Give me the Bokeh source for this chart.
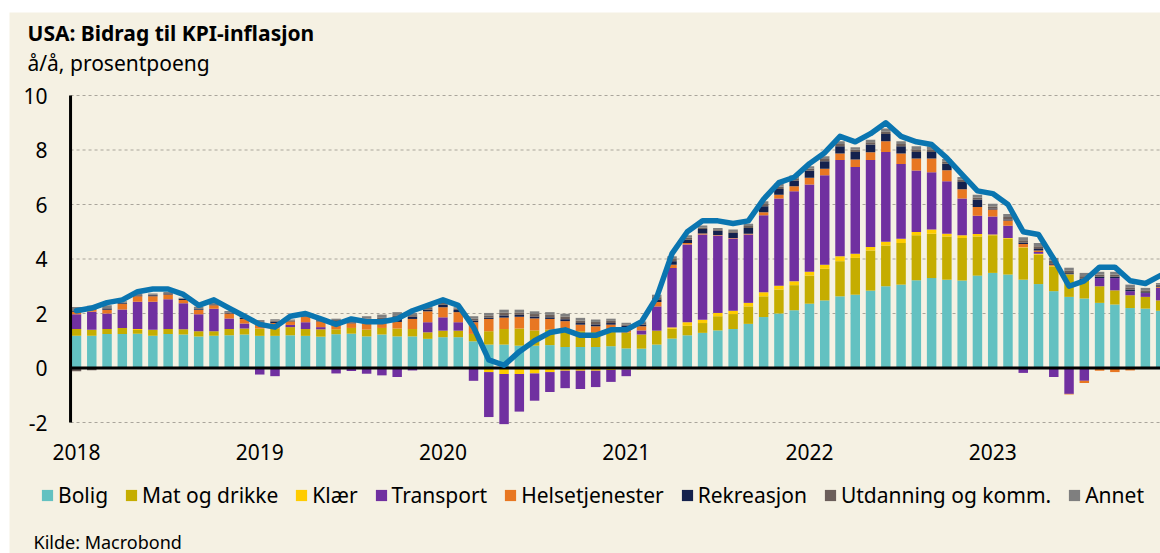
import numpy as np
from bokeh.plotting import figure
from bokeh.models import ColumnDataSource, Legend, LegendItem, Range1d, Label
from bokeh.core.properties import value
from bokeh.embed import file_html
from bokeh.resources import INLINE

# ---------------- data ----------------
years = ["2018", "2019", "2020", "2021", "2022", "2023"]
months = [f"{y}-{m:02d}" for y in years for m in range(1, 13)]

bolig = [
    1.18, 1.18, 1.25, 1.25, 1.26, 1.18, 1.25, 1.23, 1.16, 1.18, 1.20, 1.23,
    1.18, 1.18, 1.20, 1.18, 1.15, 1.24, 1.26, 1.16, 1.23, 1.16, 1.16, 1.07,
    1.13, 1.13, 0.98, 0.86, 0.86, 0.82, 0.82, 0.84, 0.77, 0.77, 0.77, 0.80,
    0.72, 0.71, 0.86, 1.08, 1.20, 1.29, 1.38, 1.43, 1.62, 1.87, 2.00, 2.12,
    2.36, 2.48, 2.63, 2.69, 2.84, 3.00, 3.06, 3.22, 3.30, 3.24, 3.21, 3.39,
    3.49, 3.43, 3.24, 3.08, 2.82, 2.61, 2.55, 2.39, 2.33, 2.20, 2.18, 2.10]
mat = [
    0.25, 0.22, 0.18, 0.22, 0.13, 0.22, 0.18, 0.19, 0.19, 0.17, 0.23, 0.22,
    0.27, 0.27, 0.30, 0.25, 0.27, 0.18, 0.21, 0.25, 0.24, 0.29, 0.27, 0.24,
    0.24, 0.24, 0.27, 0.49, 0.57, 0.63, 0.56, 0.57, 0.60, 0.58, 0.55, 0.52,
    0.58, 0.52, 0.51, 0.36, 0.35, 0.36, 0.52, 0.55, 0.64, 0.76, 0.88, 0.92,
    1.03, 1.16, 1.29, 1.35, 1.47, 1.50, 1.53, 1.65, 1.63, 1.59, 1.56, 1.44,
    1.38, 1.32, 1.17, 1.08, 0.91, 0.82, 0.66, 0.61, 0.52, 0.47, 0.43, 0.38]
klaer = [
    0.00, 0.00, 0.00, 0.00, 0.04, 0.00, 0.00, -0.03, 0.00, 0.00, 0.00, 0.00,
    0.00, 0.00, 0.00, -0.05, -0.05, -0.03, 0.00, 0.00, 0.00, 0.00, 0.00, 0.00,
    0.00, 0.00, 0.00, -0.15, -0.22, -0.22, -0.20, -0.15, -0.10, -0.10, -0.10, -0.07,
    -0.05, -0.05, -0.05, 0.05, 0.13, 0.12, 0.12, 0.12, 0.13, 0.15, 0.14, 0.14,
    0.14, 0.15, 0.18, 0.15, 0.13, 0.13, 0.15, 0.12, 0.15, 0.10, 0.10, 0.09,
    0.03, 0.02, 0.02, 0.03, 0.02, 0.01, 0.00, 0.00, 0.00, 0.00, 0.00, 0.00]
transport = [
    0.54, 0.66, 0.57, 0.68, 1.00, 1.03, 1.09, 0.96, 0.62, 0.82, 0.39, 0.18,
    -0.24, -0.30, 0.08, 0.25, 0.08, -0.17, -0.11, -0.21, -0.27, -0.33, -0.09, 0.37,
    0.49, 0.31, -0.47, -1.65, -1.84, -1.38, -1.00, -0.73, -0.64, -0.67, -0.60, -0.44,
    -0.25, 0.15, 0.89, 2.18, 2.85, 3.13, 2.84, 2.65, 2.51, 2.83, 3.20, 3.31,
    3.20, 3.28, 3.53, 3.19, 3.19, 3.30, 2.75, 2.26, 2.10, 1.92, 1.35, 0.67,
    0.66, 0.45, -0.18, 0.07, -0.33, -0.95, -0.47, 0.30, 0.45, 0.15, 0.14, 0.46]
helse = [
    0.09, 0.09, 0.14, 0.20, 0.20, 0.20, 0.18, 0.12, 0.16, 0.13, 0.18, 0.17,
    0.15, 0.20, 0.13, 0.19, 0.21, 0.27, 0.17, 0.24, 0.18, 0.24, 0.37, 0.40,
    0.37, 0.37, 0.43, 0.45, 0.42, 0.43, 0.44, 0.39, 0.35, 0.24, 0.21, 0.27,
    0.20, 0.15, 0.16, 0.12, 0.06, 0.04, 0.02, 0.02, 0.03, 0.11, 0.14, 0.18,
    0.25, 0.24, 0.24, 0.27, 0.29, 0.39, 0.38, 0.44, 0.51, 0.41, 0.34, 0.32,
    0.26, 0.19, 0.12, 0.05, 0.04, -0.02, -0.08, -0.10, -0.15, -0.09, -0.03, 0.03]
rekreasjon = [
    0.03, 0.03, 0.04, 0.03, 0.03, 0.04, 0.03, 0.03, 0.03, 0.03, 0.03, 0.04,
    0.04, 0.05, 0.02, 0.02, 0.02, 0.03, 0.03, 0.08, 0.10, 0.12, 0.08, 0.06,
    0.09, 0.08, 0.06, 0.05, 0.08, 0.07, 0.07, 0.06, 0.07, 0.06, 0.07, 0.06,
    0.05, 0.06, 0.10, 0.13, 0.12, 0.16, 0.16, 0.19, 0.21, 0.22, 0.21, 0.21,
    0.27, 0.28, 0.27, 0.28, 0.28, 0.27, 0.27, 0.24, 0.24, 0.24, 0.27, 0.27,
    0.03, 0.04, 0.05, 0.06, 0.05, 0.04, 0.06, 0.05, 0.05, 0.06, 0.03, 0.03]
utdanning = [
    -0.12, -0.08, 0.02, 0.02, 0.02, 0.02, 0.02, 0.02, 0.03, 0.02, 0.02, 0.02,
    0.04, 0.04, 0.02, 0.02, 0.03, 0.04, 0.05, 0.08, 0.09, 0.10, 0.06, 0.06,
    0.07, 0.05, 0.07, 0.08, 0.10, 0.09, 0.09, 0.09, 0.10, 0.09, 0.09, 0.08,
    0.05, 0.06, 0.08, 0.08, 0.08, 0.06, 0.05, 0.06, 0.07, 0.08, 0.09, 0.08,
    0.07, 0.08, 0.08, 0.08, 0.08, 0.09, 0.08, 0.10, 0.10, 0.08, 0.08, 0.08,
    0.08, 0.09, 0.09, 0.10, 0.10, 0.10, 0.10, 0.08, 0.08, 0.08, 0.07, 0.06]
annet = [
    0.15, 0.10, 0.10, 0.05, 0.05, 0.04, 0.04, 0.03, 0.06, 0.04, 0.04, 0.05,
    0.08, 0.05, 0.03, 0.02, 0.04, 0.05, 0.06, 0.09, 0.12, 0.14, 0.08, 0.07,
    0.08, 0.05, 0.09, 0.09, 0.11, 0.10, 0.10, 0.10, 0.10, 0.10, 0.09, 0.08,
    0.06, 0.06, 0.09, 0.10, 0.08, 0.07, 0.05, 0.06, 0.08, 0.10, 0.10, 0.10,
    0.08, 0.10, 0.10, 0.09, 0.10, 0.11, 0.10, 0.11, 0.11, 0.09, 0.10, 0.10,
    0.10, 0.11, 0.11, 0.12, 0.10, 0.10, 0.12, 0.10, 0.10, 0.10, 0.09, 0.06]
kpi_total = [
    2.1, 2.2, 2.4, 2.5, 2.8, 2.9, 2.9, 2.7, 2.3, 2.5, 2.2, 1.9,
    1.6, 1.5, 1.9, 2.0, 1.8, 1.6, 1.8, 1.7, 1.7, 1.8, 2.1, 2.3,
    2.5, 2.3, 1.5, 0.3, 0.1, 0.6, 1.0, 1.3, 1.4, 1.2, 1.2, 1.4,
    1.4, 1.7, 2.6, 4.2, 5.0, 5.4, 5.4, 5.3, 5.4, 6.2, 6.8, 7.0,
    7.5, 7.9, 8.5, 8.3, 8.6, 9.0, 8.5, 8.3, 8.2, 7.7, 7.1, 6.5,
    6.4, 6.0, 5.0, 4.9, 4.0, 3.0, 3.2, 3.7, 3.7, 3.2, 3.1, 3.4]

series_names = ["Bolig", "Mat og drikke", "Klær", "Transport", "Helsetjenester",
                "Rekreasjon", "Utdanning og komm.", "Annet"]
series_values = [bolig, mat, klaer, transport, helse, rekreasjon, utdanning, annet]
series_colors = ["#63c1c1", "#c5ad00", "#ffcc00", "#7030a0", "#e87722",
                 "#14214d", "#6b5e5a", "#7f7f7f"]
y_ticks = [-2, 0, 2, 4, 6, 8, 10]
y_tick_labels = ["-2", "0", "2", "4", "6", "8", "10"]
x_tick_pos = [12 * i for i in range(len(years))]

title_text = "USA: Bidrag til KPI-inflasjon"
subtitle_text = "å/å, prosentpoeng"
source_text = "Kilde: Macrobond"

# ---------------- layout constants ----------------
BG = "#f5f1e3"
FONT = "Noto Sans"
W, H = 1151, 541
PX_X = 15.27          # pixels per month
PX_Y = 27.25          # pixels per percentage point
LEFT_PX = 67          # pixel position of first month inside the canvas
TOP_PX = 83           # pixel position of y=10 inside the canvas
Y_MAX, Y_MIN = 10, -2
X_AXIS = -0.39        # where the vertical axis line sits (in months)

x_start = -LEFT_PX / PX_X
x_end = x_start + W / PX_X
y_top = Y_MAX + TOP_PX / PX_Y
y_bot = y_top - H / PX_Y

p = figure(width=W, height=H, output_backend="svg", toolbar_location=None,
           x_axis_location=None, y_axis_location=None,
           x_range=Range1d(x_start, x_end), y_range=Range1d(y_bot, y_top),
           min_border=0, background_fill_color=BG, border_fill_color=BG,
           outline_line_color=None)
p.margin = (12, 0, 0, 9)
p.grid.visible = False

# grid lines (dashed) at the y ticks, except zero
grid_y = [t for t in y_ticks if t != 0]
p.segment(x0=[X_AXIS] * len(grid_y), x1=[x_end] * len(grid_y), y0=grid_y, y1=grid_y,
          line_color="#a9a59b", line_dash="3 3", line_width=1)

# stacked bars
x = np.arange(len(months))
pos_base = np.zeros(len(months))
neg_base = np.zeros(len(months))
legend_items = []
for name, vals, col in zip(series_names, series_values, series_colors):
    v = np.array(vals, dtype=float)
    pv = np.clip(v, 0, None)
    nv = np.clip(v, None, 0)
    src_p = ColumnDataSource(dict(x=x, bottom=pos_base.copy(), top=pos_base + pv))
    src_n = ColumnDataSource(dict(x=x, bottom=neg_base + nv, top=neg_base.copy()))
    rp = p.vbar(x="x", bottom="bottom", top="top", width=0.62, source=src_p,
                fill_color=col, line_color=None)
    p.vbar(x="x", bottom="bottom", top="top", width=0.62, source=src_n,
           fill_color=col, line_color=None)
    pos_base = pos_base + pv
    neg_base = neg_base + nv
    legend_items.append(LegendItem(label=name, renderers=[rp]))

# zero line and vertical axis line
p.segment(x0=[X_AXIS], x1=[x_end], y0=[0], y1=[0], line_color="black", line_width=3)
p.segment(x0=[X_AXIS], x1=[X_AXIS], y0=[Y_MIN], y1=[Y_MAX], line_color="black",
          line_width=3)

# total CPI line
p.line(x, kpi_total, line_color="#0a75b0", line_width=5.5, line_join="round",
       line_cap="round")

# tick labels
p.text(x=[X_AXIS] * len(y_ticks), y=y_ticks, text=y_tick_labels, x_offset=-23,
       text_align="right", text_baseline="middle", text_font=value(FONT),
       text_font_size="21px", text_color="black")
p.text(x=x_tick_pos, y=[Y_MIN] * len(x_tick_pos), text=years, y_offset=29,
       text_align="center", text_baseline="middle", text_font=value(FONT),
       text_font_size="21px", text_color="black")

# titles and source
p.add_layout(Label(x=18, y=521, x_units="screen", y_units="screen",
                   text=title_text, text_font=FONT, text_font_size="21px",
                   text_font_style="bold", text_baseline="middle",
                   text_color="black"))
p.add_layout(Label(x=18, y=491, x_units="screen", y_units="screen",
                   text=subtitle_text, text_font=FONT, text_font_size="21px",
                   text_baseline="middle", text_color="black"))
p.add_layout(Label(x=24, y=12, x_units="screen", y_units="screen",
                   text=source_text, text_font=FONT, text_font_size="18px",
                   text_baseline="middle", text_color="black"))

legend = Legend(items=legend_items, orientation="horizontal", location=(31, 44),
                padding=0, margin=0, spacing=16, glyph_width=14, glyph_height=14,
                label_standoff=4, label_text_font=FONT, label_text_font_size="21px",
                label_text_color="black", background_fill_alpha=0,
                border_line_color=None)
p.add_layout(legend)

open("out.html", "w").write(file_html(p, INLINE))
